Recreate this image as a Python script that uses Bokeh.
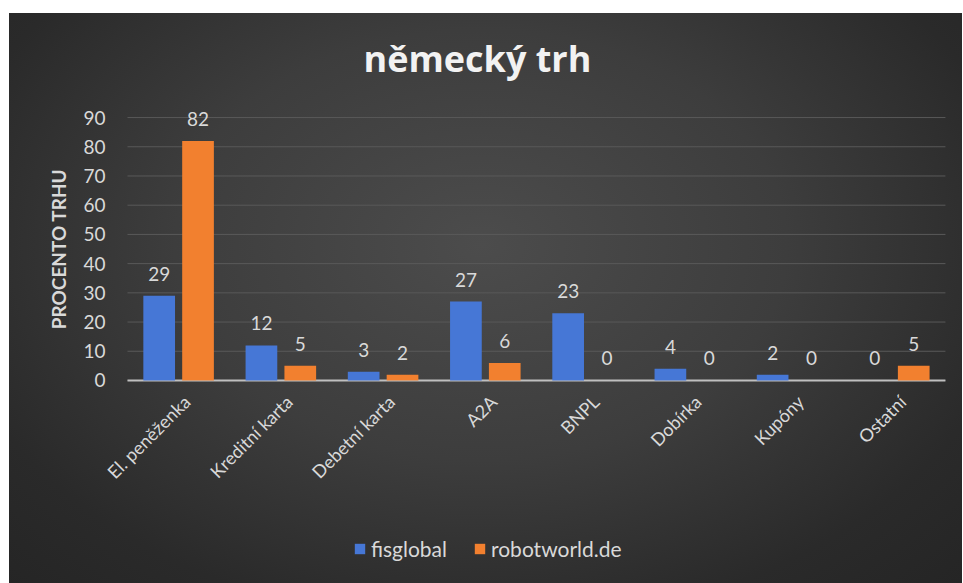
from math import pi
from bokeh.plotting import figure
from bokeh.models import ColumnDataSource, Range1d, Legend, LegendItem
from bokeh.transform import dodge
from bokeh.core.properties import value
from bokeh.embed import file_html
from bokeh.resources import INLINE

categories = ["El. peněženka", "Kreditní karta", "Debetní karta", "A2A", "BNPL", "Dobírka", "Kupóny", "Ostatní"]
fisglobal = [29, 12, 3, 27, 23, 4, 2, 0]
robotworld = [82, 5, 2, 6, 0, 0, 0, 5]
series_names = ["fisglobal", "robotworld.de"]
y_ticks = [0, 10, 20, 30, 40, 50, 60, 70, 80, 90]
y_title = "PROCENTO TRHU"

FONT = "Lato"
TXT = "#d9d9d9"
BLUE = "#4677d6"
ORANGE = "#f2802f"

idx = list(range(len(categories)))
src = ColumnDataSource(dict(
    idx=idx,
    cat=categories,
    fis=fisglobal,
    rob=robotworld,
    fis_lbl=[str(v) for v in fisglobal],
    rob_lbl=[str(v) for v in robotworld],
    zero=[0] * len(categories),
))
left_edge = idx[0] - 0.5
right_edge = idx[-1] + 0.5
grid_src = ColumnDataSource(dict(
    y=y_ticks,
    x0=[left_edge] * len(y_ticks),
    x1=[right_edge] * len(y_ticks),
    lbl=[str(t) for t in y_ticks],
))

p = figure(
    frame_width=962, frame_height=501,
    x_range=Range1d(-1.742, 7.667),
    y_range=Range1d(-69.5, 102),
    output_backend="svg", toolbar_location=None,
    min_border_left=0, min_border_right=0, min_border_top=82, min_border_bottom=0,
)
p.styles = {
    "background": ("linear-gradient(#ffffff, #ffffff) left top / 100% 13px no-repeat, "
                   "linear-gradient(#ffffff, #ffffff) left top / 9px 100% no-repeat, "
                   "radial-gradient(ellipse at 50% 42%, #4c4c4c 0%, #3d3d3d 45%, #2a2a2a 80%, #252525 100%)")
}
p.border_fill_color = None
p.background_fill_color = None
p.outline_line_color = None
p.xaxis.visible = False
p.yaxis.visible = False
p.xgrid.grid_line_color = None
p.ygrid.grid_line_color = None

p.title.text = "německý trh"
p.title.align = "left"
p.title.offset = 363
p.title.text_font = "Open Sans"
p.title.text_font_style = "bold"
p.title.text_font_size = "36px"
p.title.text_color = "#f2f2f2"
p.title.standoff = 0

# value gridlines and zero (category axis) line
p.segment(x0="x0", x1="x1", y0="y", y1="y", source=grid_src, line_color="#595959", line_width=1)
p.segment(x0=[left_edge], x1=[right_edge], y0=[y_ticks[0]], y1=[y_ticks[0]],
          line_color="#bfbfbf", line_width=2)

# value tick labels
p.text(x="x0", y="y", text="lbl", source=grid_src, x_offset=-22,
       text_align="right", text_baseline="middle",
       text_font=value(FONT), text_font_size="19px", text_color=TXT)

# value axis title
p.text(x=[left_edge], y=[(y_ticks[0] + y_ticks[-1]) / 2], text=[y_title], angle=pi / 2,
       x_offset=-69, text_align="center", text_baseline="middle",
       text_font=value(FONT), text_font_style="bold", text_font_size="19px", text_color=TXT)

r1 = p.vbar(x=dodge("idx", -0.19), top="fis", width=0.31, source=src,
            fill_color=BLUE, line_color=None)
r2 = p.vbar(x=dodge("idx", 0.19), top="rob", width=0.31, source=src,
            fill_color=ORANGE, line_color=None)

p.text(x=dodge("idx", -0.19), y="fis", text="fis_lbl", source=src,
       text_align="center", text_baseline="bottom", y_offset=-15,
       text_font=value(FONT), text_font_size="19px", text_color=TXT)
p.text(x=dodge("idx", 0.19), y="rob", text="rob_lbl", source=src,
       text_align="center", text_baseline="bottom", y_offset=-15,
       text_font=value(FONT), text_font_size="19px", text_color=TXT)

# category labels (rotated), below the zero line
p.text(x=dodge("idx", 0.08), y="zero", text="cat", source=src,
       angle=pi / 4, text_align="right", text_baseline="middle", y_offset=18,
       text_font=value(FONT), text_font_size="18px", text_color=TXT)

legend = Legend(items=[LegendItem(label=series_names[0], renderers=[r1]),
                       LegendItem(label=series_names[1], renderers=[r2])],
                orientation="horizontal", location=(353, 22))
legend.background_fill_color = None
legend.background_fill_alpha = 0
legend.border_line_color = None
legend.label_text_font = FONT
legend.label_text_font_size = "21px"
legend.label_text_color = TXT
legend.glyph_width = 13
legend.glyph_height = 13
legend.spacing = 26
legend.label_standoff = 5
legend.padding = 0
legend.margin = 0
p.add_layout(legend, "center")

open("out.html", "w").write(file_html(p, INLINE))
